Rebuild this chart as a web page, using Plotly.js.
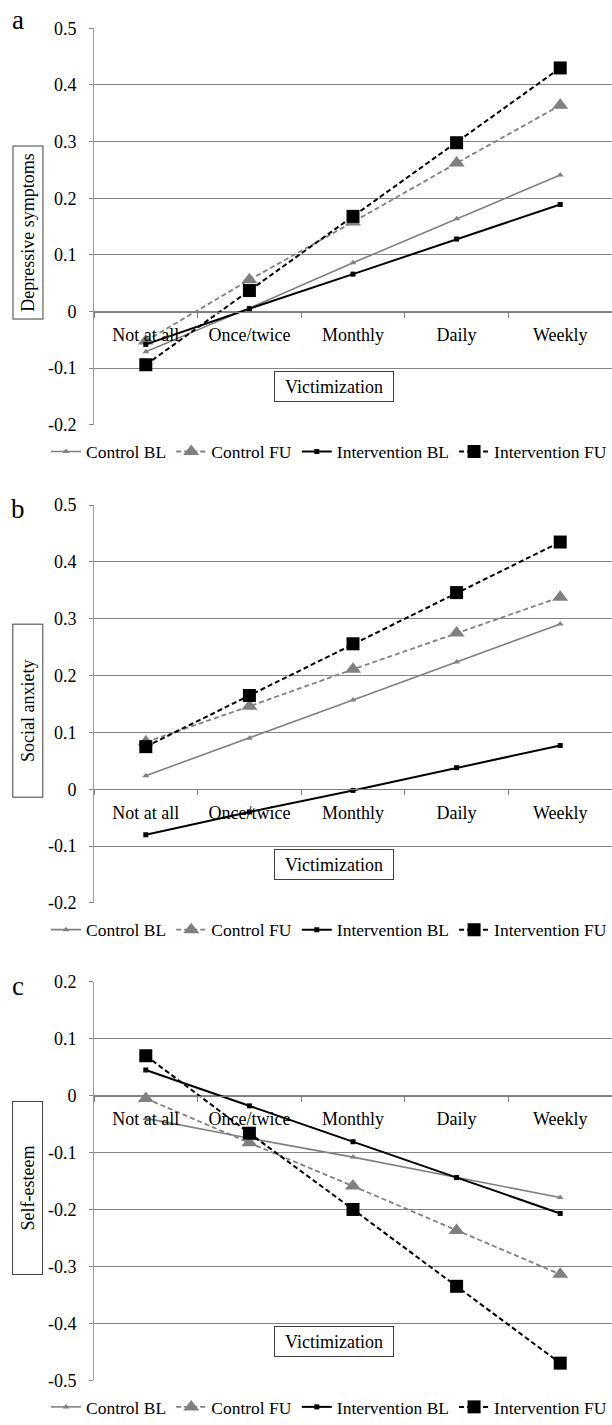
<!DOCTYPE html>
<html>
<head>
<meta charset="utf-8">
<script src="https://cdn.plot.ly/plotly-3.0.1.min.js"></script>
<style>html,body{margin:0;padding:0;background:#fff;}#chart{width:612px;height:1425px;}</style>
</head>
<body>
<div id="chart"></div>
<script>
// ---- Data ----
const categories = ['Not at all', 'Once/twice', 'Monthly', 'Daily', 'Weekly'];
const seriesNames = ['Control BL', 'Control FU', 'Intervention BL', 'Intervention FU'];
const panelLetters = ['a', 'b', 'c'];
const panelTitles = ['Depressive symptoms', 'Social anxiety', 'Self-esteem'];
const xAxisTitle = 'Victimization';

// Panel a: Depressive symptoms
const depControlBL = [-0.071, 0.006, 0.086, 0.164, 0.241];
const depControlFU = [-0.052, 0.056, 0.158, 0.262, 0.364];
const depInterventionBL = [-0.058, 0.005, 0.066, 0.128, 0.189];
const depInterventionFU = [-0.094, 0.037, 0.168, 0.298, 0.430];

// Panel b: Social anxiety
const socControlBL = [0.024, 0.090, 0.157, 0.224, 0.291];
const socControlFU = [0.083, 0.146, 0.211, 0.275, 0.338];
const socInterventionBL = [-0.080, -0.040, -0.002, 0.038, 0.077];
const socInterventionFU = [0.075, 0.165, 0.256, 0.346, 0.435];

// Panel c: Self-esteem
const seControlBL = [-0.040, -0.075, -0.108, -0.144, -0.179];
const seControlFU = [-0.005, -0.083, -0.159, -0.237, -0.314];
const seInterventionBL = [0.045, -0.018, -0.081, -0.144, -0.207];
const seInterventionFU = [0.070, -0.066, -0.200, -0.335, -0.470];

// Tick labels
const yTicksAB = [-0.2, -0.1, 0, 0.1, 0.2, 0.3, 0.4, 0.5];
const yTickLabelsAB = ['-0.2', '-0.1', '0', '0.1', '0.2', '0.3', '0.4', '0.5'];
const yTicksC = [-0.5, -0.4, -0.3, -0.2, -0.1, 0, 0.1, 0.2];
const yTickLabelsC = ['-0.5', '-0.4', '-0.3', '-0.2', '-0.1', '0', '0.1', '0.2'];

// ---- Layout helpers ----
const W = 612, H = 1425;
const FONT = '"Liberation Serif", "Times New Roman", Times, serif';
const GRAY = '#808080';
const GRID = '#858585';
const py = p => 1 - p / H;
const px = p => p / W;

const panels = [
  { data: [depControlBL, depControlFU, depInterventionBL, depInterventionFU],
    top: 28.5, bottom: 427.5, range: [-0.2, 0.5], ticks: yTicksAB, labels: yTickLabelsAB,
    letterY: 20, legend: 'legend' },
  { data: [socControlBL, socControlFU, socInterventionBL, socInterventionFU],
    top: 508.3, bottom: 908.7, range: [-0.2, 0.5], ticks: yTicksAB, labels: yTickLabelsAB,
    letterY: 512, legend: 'legend2' },
  { data: [seControlBL, seControlFU, seInterventionBL, seInterventionFU],
    top: 988, bottom: 1389, range: [-0.5, 0.2], ticks: yTicksC, labels: yTickLabelsC,
    letterY: 992, legend: 'legend3' }
];

const styles = [
  { color: GRAY, dash: 'solid', width: 1.6, symbol: 'triangle-up', size: 6 },
  { color: GRAY, dash: '5px,3px', width: 1.8, symbol: 'triangle-up', size: 14 },
  { color: '#000', dash: 'solid', width: 2, symbol: 'square', size: 5 },
  { color: '#000', dash: '5px,3px', width: 2, symbol: 'square', size: 13 }
];

const traces = [];
const layout = {
  width: W, height: H,
  margin: { l: 0, r: 0, t: 0, b: 0 },
  paper_bgcolor: '#fff', plot_bgcolor: '#fff',
  font: { family: FONT, size: 18, color: '#000' },
  annotations: [],
  showlegend: true
};

panels.forEach((p, i) => {
  const sfx = i === 0 ? '' : String(i + 1);
  const xa = 'x' + sfx, ya = 'y' + sfx;
  const d0 = py(p.bottom), d1 = py(p.top);
  const zeroPos = d0 + (0 - p.range[0]) / (p.range[1] - p.range[0]) * (d1 - d0);

  p.data.forEach((vals, k) => {
    const s = styles[k];
    traces.push({
      type: 'scatter', mode: 'lines+markers',
      x: categories, y: vals, name: seriesNames[k],
      xaxis: xa, yaxis: ya, legend: p.legend,
      line: { color: s.color, dash: s.dash, width: s.width },
      marker: { color: s.color, symbol: s.symbol, size: s.size, line: { width: 0 } },
      cliponaxis: false
    });
  });

  layout['xaxis' + sfx] = {
    type: 'category', domain: [px(94), 1], anchor: 'free', position: zeroPos,
    range: [-0.5, 4.5], fixedrange: true,
    showgrid: false, zeroline: false, showline: true, linecolor: GRAY, linewidth: 1,
    ticks: 'outside', tickson: 'boundaries', ticklen: 5, tickcolor: GRAY,
    ticklabelstandoff: 7,
    tickfont: { family: FONT, size: 18, color: '#000' }
  };
  layout['yaxis' + sfx] = {
    domain: [d0, d1], anchor: xa, range: p.range, fixedrange: true,
    tickmode: 'array', tickvals: p.ticks, ticktext: p.labels,
    showgrid: true, gridcolor: GRID, gridwidth: 1, zeroline: false,
    showline: true, linecolor: '#a0a0a0', linewidth: 1,
    ticks: 'outside', ticklen: 4, tickcolor: GRID,
    ticklabelstandoff: 9,
    tickfont: { family: FONT, size: 18, color: '#000' }
  };
  layout[p.legend] = {
    orientation: 'h', x: px(61), xanchor: 'left', y: py(p.bottom + 27), yanchor: 'middle',
    font: { family: FONT, size: 17.5, color: '#000' },
    bgcolor: 'rgba(0,0,0,0)', borderwidth: 0, itemwidth: 30, tracegroupgap: 0
  };

  // panel letter
  layout.annotations.push({
    xref: 'paper', yref: 'paper', x: px(18), y: py(p.letterY), xanchor: 'center', yanchor: 'middle',
    text: panelLetters[i], showarrow: false, font: { family: FONT, size: 27, color: '#000' }
  });
  // y-axis title box
  layout.annotations.push({
    xref: 'paper', yref: 'paper', x: px(27.5), y: py(p.bottom - 193), xanchor: 'center', yanchor: 'middle',
    text: panelTitles[i], showarrow: false, textangle: -90,
    width: 172, height: 29, bordercolor: '#404040', borderwidth: 1, borderpad: 0, bgcolor: '#fff',
    font: { family: FONT, size: 18, color: '#000' }
  });
  // x-axis title box
  layout.annotations.push({
    xref: 'paper', yref: 'paper', x: px(334), y: py(p.bottom - 38.5), xanchor: 'center', yanchor: 'middle',
    text: xAxisTitle, showarrow: false,
    width: 118, height: 29, bordercolor: '#404040', borderwidth: 1, borderpad: 0, bgcolor: '#fff',
    font: { family: FONT, size: 18, color: '#000' }
  });
});

Plotly.newPlot('chart', traces, layout, { staticPlot: true, displayModeBar: false });
</script>
</body>
</html>
